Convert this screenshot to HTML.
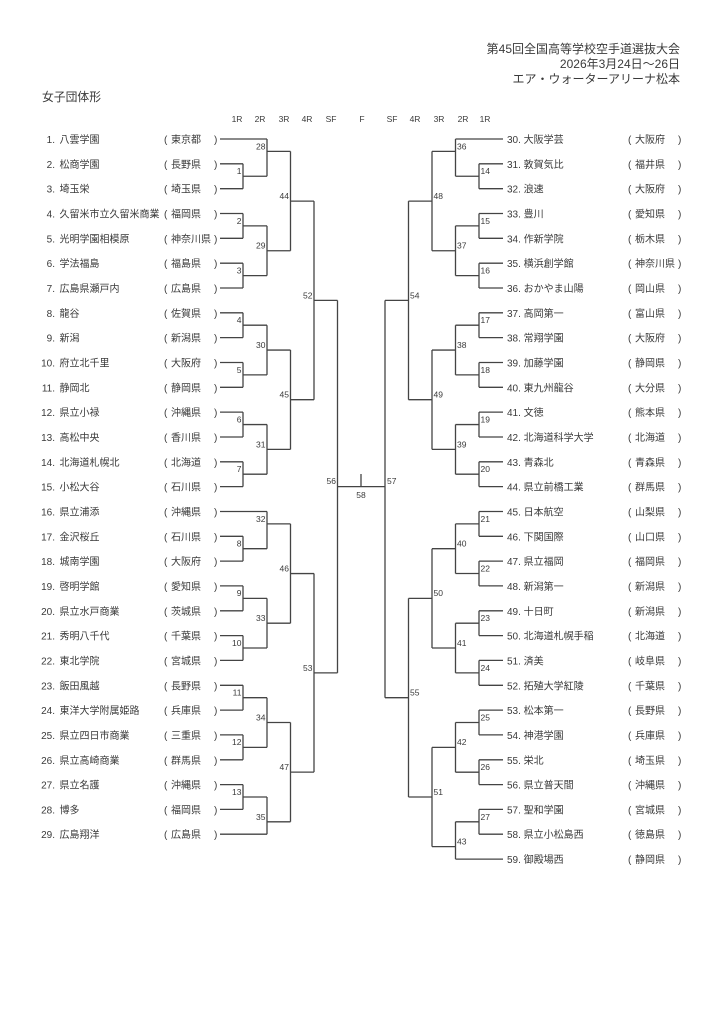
<!DOCTYPE html>
<html><head><meta charset="utf-8"><style>
html,body{margin:0;padding:0;background:#fff;}
svg{display:block;}
text{font-family:"Liberation Sans","Noto Sans CJK JP",sans-serif;fill:#3a3a3a;}
.t{font-size:10px;}
.r{font-size:8.5px;}
.n{font-size:8.5px;}
</style></head><body>
<svg width="724" height="1024" viewBox="0 0 724 1024" xmlns="http://www.w3.org/2000/svg">
<g style="font-size:12px" text-anchor="end">
<text x="680" y="53">第45回全国高等学校空手道選抜大会</text>
<text x="680" y="68">2026年3月24日～26日</text>
<text x="680" y="83">エア・ウォーターアリーナ松本</text>
</g>
<text x="42" y="101" style="font-size:11.8px">女子団体形</text>
<g class="r" text-anchor="middle">
<text x="237" y="122">1R</text><text x="260" y="122">2R</text><text x="284" y="122">3R</text><text x="307" y="122">4R</text><text x="331" y="122">SF</text><text x="362" y="122">F</text><text x="392" y="122">SF</text><text x="415" y="122">4R</text><text x="439" y="122">3R</text><text x="463" y="122">2R</text><text x="485" y="122">1R</text>
</g>
<path fill="none" stroke="#444" stroke-width="1.3" d="
M220 139H267 M220 163.8H243 M220 188.7H243 M220 213.5H243 M220 238.3H243 M220 263.2H243 M220 288H243 M220 312.8H243 M220 337.6H243 M220 362.5H243 M220 387.3H243 M220 412.1H243 M220 437H243 M220 461.8H243 M220 486.6H243 M220 511.5H267 M220 536.3H243 M220 561.1H243 M220 585.9H243 M220 610.8H243 M220 635.6H243 M220 660.4H243 M220 685.3H243 M220 710.1H243 M220 734.9H243 M220 759.8H243 M220 784.6H243 M220 809.4H243 M220 834.2H267
M243 163.8V188.7 M243 176.25H267 M243 213.5V238.3 M243 225.9H267 M243 263.2V288 M243 275.6H267 M243 312.8V337.6 M243 325.2H267 M243 362.5V387.3 M243 374.9H267 M243 412.1V437 M243 424.55H267 M243 461.8V486.6 M243 474.2H267 M243 536.3V561.1 M243 548.7H267 M243 585.9V610.8 M243 598.35H267 M243 635.6V660.4 M243 648H267 M243 685.3V710.1 M243 697.7H267 M243 734.9V759.8 M243 747.35H267 M243 784.6V809.4 M243 797H267
M267 139V176.25 M267 151.4H290.5 M267 225.9V275.6 M267 250.75H290.5 M267 325.2V374.9 M267 350.05H290.5 M267 424.55V474.2 M267 449.4H290.5 M267 511.5V548.7 M267 523.9H290.5 M267 598.35V648 M267 623.2H290.5 M267 697.7V747.35 M267 722.5H290.5 M267 797V834.2 M267 821.8H290.5
M290.5 151.4V250.75 M290.5 201.1H314 M290.5 350.05V449.4 M290.5 399.7H314 M290.5 523.9V623.2 M290.5 573.55H314 M290.5 722.5V821.8 M290.5 772.15H314
M314 201.1V399.7 M314 300.4H337.5 M314 573.55V772.15 M314 672.85H337.5
M337.5 300.4V672.85 M337.5 486.6H385 M361 474V486.6 M385 300.4V697.7
M503 139H455.5 M503 163.8H479 M503 188.7H479 M503 213.5H479 M503 238.3H479 M503 263.2H479 M503 288H479 M503 312.8H479 M503 337.6H479 M503 362.5H479 M503 387.3H479 M503 412.1H479 M503 437H479 M503 461.8H479 M503 486.6H479 M503 511.5H479 M503 536.3H479 M503 561.1H479 M503 585.9H479 M503 610.8H479 M503 635.6H479 M503 660.4H479 M503 685.3H479 M503 710.1H479 M503 734.9H479 M503 759.8H479 M503 784.6H479 M503 809.4H479 M503 834.2H479 M503 859.1H455.5
M479 163.8V188.7 M479 176.25H455.5 M479 213.5V238.3 M479 225.9H455.5 M479 263.2V288 M479 275.6H455.5 M479 312.8V337.6 M479 325.2H455.5 M479 362.5V387.3 M479 374.9H455.5 M479 412.1V437 M479 424.55H455.5 M479 461.8V486.6 M479 474.2H455.5 M479 511.5V536.3 M479 523.9H455.5 M479 561.1V585.9 M479 573.5H455.5 M479 610.8V635.6 M479 623.2H455.5 M479 660.4V685.3 M479 672.85H455.5 M479 710.1V734.9 M479 722.5H455.5 M479 759.8V784.6 M479 772.2H455.5 M479 809.4V834.2 M479 821.8H455.5
M455.5 139V176.25 M455.5 151.4H432 M455.5 225.9V275.6 M455.5 250.75H432 M455.5 325.2V374.9 M455.5 350.05H432 M455.5 424.55V474.2 M455.5 449.4H432 M455.5 523.9V573.5 M455.5 548.7H432 M455.5 623.2V672.85 M455.5 648H432 M455.5 722.5V772.2 M455.5 747.35H432 M455.5 821.8V859.1 M455.5 846.65H432
M432 151.4V250.75 M432 201.1H408.5 M432 350.05V449.4 M432 399.7H408.5 M432 548.7V648 M432 598.35H408.5 M432 747.35V846.65 M432 797H408.5
M408.5 201.1V399.7 M408.5 300.4H385 M408.5 598.35V797 M408.5 697.7H385
"/>
<g class="n" text-anchor="end">
<text x="241.5" y="174">1</text><text x="241.5" y="224">2</text><text x="241.5" y="273.5">3</text><text x="241.5" y="323">4</text><text x="241.5" y="373">5</text><text x="241.5" y="422.5">6</text><text x="241.5" y="472">7</text><text x="241.5" y="546.5">8</text><text x="241.5" y="596">9</text><text x="241.5" y="646">10</text><text x="241.5" y="695.5">11</text><text x="241.5" y="745">12</text><text x="241.5" y="795">13</text>
<text x="265.5" y="149.5">28</text><text x="265.5" y="248.5">29</text><text x="265.5" y="348">30</text><text x="265.5" y="447.5">31</text><text x="265.5" y="522">32</text><text x="265.5" y="621">33</text><text x="265.5" y="720.5">34</text><text x="265.5" y="820">35</text>
<text x="289" y="199">44</text><text x="289" y="397.5">45</text><text x="289" y="571.5">46</text><text x="289" y="770">47</text>
<text x="312.5" y="298.5">52</text><text x="312.5" y="671">53</text>
<text x="336" y="484">56</text>
</g>
<g class="n">
<text x="480.5" y="174">14</text><text x="480.5" y="224">15</text><text x="480.5" y="273.5">16</text><text x="480.5" y="323">17</text><text x="480.5" y="373">18</text><text x="480.5" y="422.5">19</text><text x="480.5" y="472">20</text><text x="480.5" y="522">21</text><text x="480.5" y="571.5">22</text><text x="480.5" y="621">23</text><text x="480.5" y="671">24</text><text x="480.5" y="720.5">25</text><text x="480.5" y="770">26</text><text x="480.5" y="820">27</text>
<text x="457" y="149.5">36</text><text x="457" y="248.5">37</text><text x="457" y="348">38</text><text x="457" y="447.5">39</text><text x="457" y="546.5">40</text><text x="457" y="646">41</text><text x="457" y="745">42</text><text x="457" y="844.5">43</text>
<text x="433.5" y="199">48</text><text x="433.5" y="397.5">49</text><text x="433.5" y="596">50</text><text x="433.5" y="795">51</text>
<text x="410" y="298.5">54</text><text x="410" y="695.5">55</text>
<text x="387" y="484">57</text>
<text x="361" y="498" text-anchor="middle">58</text>
</g>
<g class="t">
<g text-anchor="end">
<text x="55" y="143">1.</text><text x="55" y="167.8">2.</text><text x="55" y="192.7">3.</text><text x="55" y="217.5">4.</text><text x="55" y="242.3">5.</text><text x="55" y="267.2">6.</text><text x="55" y="292">7.</text><text x="55" y="316.8">8.</text><text x="55" y="341.6">9.</text><text x="55" y="366.5">10.</text><text x="55" y="391.3">11.</text><text x="55" y="416.1">12.</text><text x="55" y="441">13.</text><text x="55" y="465.8">14.</text><text x="55" y="490.6">15.</text><text x="55" y="515.5">16.</text><text x="55" y="540.3">17.</text><text x="55" y="565.1">18.</text><text x="55" y="589.9">19.</text><text x="55" y="614.8">20.</text><text x="55" y="639.6">21.</text><text x="55" y="664.4">22.</text><text x="55" y="689.3">23.</text><text x="55" y="714.1">24.</text><text x="55" y="738.9">25.</text><text x="55" y="763.8">26.</text><text x="55" y="788.6">27.</text><text x="55" y="813.4">28.</text><text x="55" y="838.2">29.</text>
</g>
<g>
<text x="59.5" y="143">八雲学園</text><text x="59.5" y="167.8">松商学園</text><text x="59.5" y="192.7">埼玉栄</text><text x="59.5" y="217.5">久留米市立久留米商業</text><text x="59.5" y="242.3">光明学園相模原</text><text x="59.5" y="267.2">学法福島</text><text x="59.5" y="292">広島県瀬戸内</text><text x="59.5" y="316.8">龍谷</text><text x="59.5" y="341.6">新潟</text><text x="59.5" y="366.5">府立北千里</text><text x="59.5" y="391.3">静岡北</text><text x="59.5" y="416.1">県立小禄</text><text x="59.5" y="441">高松中央</text><text x="59.5" y="465.8">北海道札幌北</text><text x="59.5" y="490.6">小松大谷</text><text x="59.5" y="515.5">県立浦添</text><text x="59.5" y="540.3">金沢桜丘</text><text x="59.5" y="565.1">城南学園</text><text x="59.5" y="589.9">啓明学館</text><text x="59.5" y="614.8">県立水戸商業</text><text x="59.5" y="639.6">秀明八千代</text><text x="59.5" y="664.4">東北学院</text><text x="59.5" y="689.3">飯田風越</text><text x="59.5" y="714.1">東洋大学附属姫路</text><text x="59.5" y="738.9">県立四日市商業</text><text x="59.5" y="763.8">県立高崎商業</text><text x="59.5" y="788.6">県立名護</text><text x="59.5" y="813.4">博多</text><text x="59.5" y="838.2">広島翔洋</text>
</g>
<g>
<text x="164" y="143">(</text><text x="164" y="167.8">(</text><text x="164" y="192.7">(</text><text x="164" y="217.5">(</text><text x="164" y="242.3">(</text><text x="164" y="267.2">(</text><text x="164" y="292">(</text><text x="164" y="316.8">(</text><text x="164" y="341.6">(</text><text x="164" y="366.5">(</text><text x="164" y="391.3">(</text><text x="164" y="416.1">(</text><text x="164" y="441">(</text><text x="164" y="465.8">(</text><text x="164" y="490.6">(</text><text x="164" y="515.5">(</text><text x="164" y="540.3">(</text><text x="164" y="565.1">(</text><text x="164" y="589.9">(</text><text x="164" y="614.8">(</text><text x="164" y="639.6">(</text><text x="164" y="664.4">(</text><text x="164" y="689.3">(</text><text x="164" y="714.1">(</text><text x="164" y="738.9">(</text><text x="164" y="763.8">(</text><text x="164" y="788.6">(</text><text x="164" y="813.4">(</text><text x="164" y="838.2">(</text>
<text x="171" y="143">東京都</text><text x="171" y="167.8">長野県</text><text x="171" y="192.7">埼玉県</text><text x="171" y="217.5">福岡県</text><text x="171" y="242.3">神奈川県</text><text x="171" y="267.2">福島県</text><text x="171" y="292">広島県</text><text x="171" y="316.8">佐賀県</text><text x="171" y="341.6">新潟県</text><text x="171" y="366.5">大阪府</text><text x="171" y="391.3">静岡県</text><text x="171" y="416.1">沖縄県</text><text x="171" y="441">香川県</text><text x="171" y="465.8">北海道</text><text x="171" y="490.6">石川県</text><text x="171" y="515.5">沖縄県</text><text x="171" y="540.3">石川県</text><text x="171" y="565.1">大阪府</text><text x="171" y="589.9">愛知県</text><text x="171" y="614.8">茨城県</text><text x="171" y="639.6">千葉県</text><text x="171" y="664.4">宮城県</text><text x="171" y="689.3">長野県</text><text x="171" y="714.1">兵庫県</text><text x="171" y="738.9">三重県</text><text x="171" y="763.8">群馬県</text><text x="171" y="788.6">沖縄県</text><text x="171" y="813.4">福岡県</text><text x="171" y="838.2">広島県</text>
<text x="214" y="143">)</text><text x="214" y="167.8">)</text><text x="214" y="192.7">)</text><text x="214" y="217.5">)</text><text x="214" y="242.3">)</text><text x="214" y="267.2">)</text><text x="214" y="292">)</text><text x="214" y="316.8">)</text><text x="214" y="341.6">)</text><text x="214" y="366.5">)</text><text x="214" y="391.3">)</text><text x="214" y="416.1">)</text><text x="214" y="441">)</text><text x="214" y="465.8">)</text><text x="214" y="490.6">)</text><text x="214" y="515.5">)</text><text x="214" y="540.3">)</text><text x="214" y="565.1">)</text><text x="214" y="589.9">)</text><text x="214" y="614.8">)</text><text x="214" y="639.6">)</text><text x="214" y="664.4">)</text><text x="214" y="689.3">)</text><text x="214" y="714.1">)</text><text x="214" y="738.9">)</text><text x="214" y="763.8">)</text><text x="214" y="788.6">)</text><text x="214" y="813.4">)</text><text x="214" y="838.2">)</text>
</g>
<g>
<text x="507" y="143">30. 大阪学芸</text><text x="507" y="167.8">31. 敦賀気比</text><text x="507" y="192.7">32. 浪速</text><text x="507" y="217.5">33. 豊川</text><text x="507" y="242.3">34. 作新学院</text><text x="507" y="267.2">35. 横浜創学館</text><text x="507" y="292">36. おかやま山陽</text><text x="507" y="316.8">37. 高岡第一</text><text x="507" y="341.6">38. 常翔学園</text><text x="507" y="366.5">39. 加藤学園</text><text x="507" y="391.3">40. 東九州龍谷</text><text x="507" y="416.1">41. 文徳</text><text x="507" y="441">42. 北海道科学大学</text><text x="507" y="465.8">43. 青森北</text><text x="507" y="490.6">44. 県立前橋工業</text><text x="507" y="515.5">45. 日本航空</text><text x="507" y="540.3">46. 下関国際</text><text x="507" y="565.1">47. 県立福岡</text><text x="507" y="589.9">48. 新潟第一</text><text x="507" y="614.8">49. 十日町</text><text x="507" y="639.6">50. 北海道札幌手稲</text><text x="507" y="664.4">51. 済美</text><text x="507" y="689.3">52. 拓殖大学紅陵</text><text x="507" y="714.1">53. 松本第一</text><text x="507" y="738.9">54. 神港学園</text><text x="507" y="763.8">55. 栄北</text><text x="507" y="788.6">56. 県立普天間</text><text x="507" y="813.4">57. 聖和学園</text><text x="507" y="838.2">58. 県立小松島西</text><text x="507" y="863.1">59. 御殿場西</text>
</g>
<g>
<text x="628" y="143">(</text><text x="628" y="167.8">(</text><text x="628" y="192.7">(</text><text x="628" y="217.5">(</text><text x="628" y="242.3">(</text><text x="628" y="267.2">(</text><text x="628" y="292">(</text><text x="628" y="316.8">(</text><text x="628" y="341.6">(</text><text x="628" y="366.5">(</text><text x="628" y="391.3">(</text><text x="628" y="416.1">(</text><text x="628" y="441">(</text><text x="628" y="465.8">(</text><text x="628" y="490.6">(</text><text x="628" y="515.5">(</text><text x="628" y="540.3">(</text><text x="628" y="565.1">(</text><text x="628" y="589.9">(</text><text x="628" y="614.8">(</text><text x="628" y="639.6">(</text><text x="628" y="664.4">(</text><text x="628" y="689.3">(</text><text x="628" y="714.1">(</text><text x="628" y="738.9">(</text><text x="628" y="763.8">(</text><text x="628" y="788.6">(</text><text x="628" y="813.4">(</text><text x="628" y="838.2">(</text><text x="628" y="863.1">(</text>
<text x="635" y="143">大阪府</text><text x="635" y="167.8">福井県</text><text x="635" y="192.7">大阪府</text><text x="635" y="217.5">愛知県</text><text x="635" y="242.3">栃木県</text><text x="635" y="267.2">神奈川県</text><text x="635" y="292">岡山県</text><text x="635" y="316.8">富山県</text><text x="635" y="341.6">大阪府</text><text x="635" y="366.5">静岡県</text><text x="635" y="391.3">大分県</text><text x="635" y="416.1">熊本県</text><text x="635" y="441">北海道</text><text x="635" y="465.8">青森県</text><text x="635" y="490.6">群馬県</text><text x="635" y="515.5">山梨県</text><text x="635" y="540.3">山口県</text><text x="635" y="565.1">福岡県</text><text x="635" y="589.9">新潟県</text><text x="635" y="614.8">新潟県</text><text x="635" y="639.6">北海道</text><text x="635" y="664.4">岐阜県</text><text x="635" y="689.3">千葉県</text><text x="635" y="714.1">長野県</text><text x="635" y="738.9">兵庫県</text><text x="635" y="763.8">埼玉県</text><text x="635" y="788.6">沖縄県</text><text x="635" y="813.4">宮城県</text><text x="635" y="838.2">徳島県</text><text x="635" y="863.1">静岡県</text>
<text x="678" y="143">)</text><text x="678" y="167.8">)</text><text x="678" y="192.7">)</text><text x="678" y="217.5">)</text><text x="678" y="242.3">)</text><text x="678" y="267.2">)</text><text x="678" y="292">)</text><text x="678" y="316.8">)</text><text x="678" y="341.6">)</text><text x="678" y="366.5">)</text><text x="678" y="391.3">)</text><text x="678" y="416.1">)</text><text x="678" y="441">)</text><text x="678" y="465.8">)</text><text x="678" y="490.6">)</text><text x="678" y="515.5">)</text><text x="678" y="540.3">)</text><text x="678" y="565.1">)</text><text x="678" y="589.9">)</text><text x="678" y="614.8">)</text><text x="678" y="639.6">)</text><text x="678" y="664.4">)</text><text x="678" y="689.3">)</text><text x="678" y="714.1">)</text><text x="678" y="738.9">)</text><text x="678" y="763.8">)</text><text x="678" y="788.6">)</text><text x="678" y="813.4">)</text><text x="678" y="838.2">)</text><text x="678" y="863.1">)</text>
</g>
</g>
</svg>
</body></html>
